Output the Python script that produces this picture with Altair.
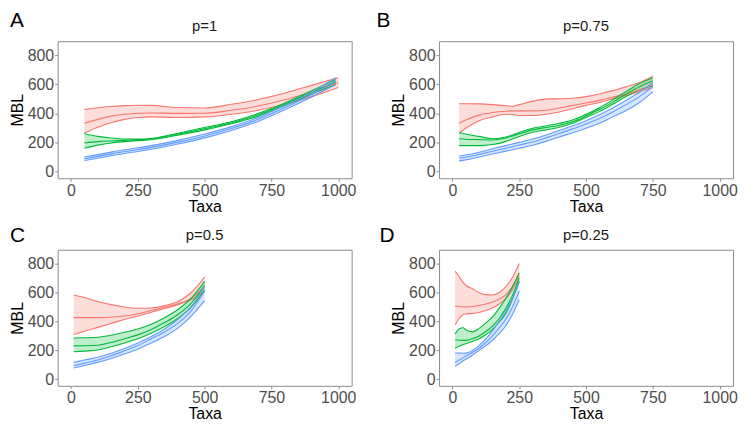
import altair as alt
import pandas as pd

# ---------------- data ----------------
panel_labels = ["A", "B", "C", "D"]
panel_titles = ["p=1", "p=0.75", "p=0.5", "p=0.25"]
groups = ["g1", "g2", "g3"]
group_colors = ["#F8766D", "#00BA38", "#619CFF"]
x_ticks = [0, 250, 500, 750, 1000]
y_ticks = [0, 200, 400, 600, 800]

# Panel A (p=1)
A_x_red = [50, 100, 150, 200, 250, 300, 400, 500, 600, 700, 800, 900, 1000]
A_red_lo = [264, 305, 336, 359, 372, 376, 372, 376, 394, 421, 462, 515, 578]
A_red_mid = [332, 359, 381, 394, 401, 403, 400, 401, 421, 450, 493, 549, 612]
A_red_hi = [426, 438, 447, 453, 456, 455, 440, 437, 462, 495, 540, 592, 645]
A_x_green = [50, 100, 150, 200, 250, 300, 400, 500, 600, 700, 800, 900, 990]
A_green_lo = [161, 182, 197, 206, 213, 219, 251, 287, 329, 381, 453, 533, 596]
A_green_mid = [197, 206, 211, 215, 220, 224, 258, 294, 336, 390, 462, 545, 614]
A_green_hi = [260, 242, 231, 224, 224, 228, 264, 303, 343, 399, 471, 556, 632]
A_x_blue = [50, 100, 150, 200, 250, 300, 400, 500, 600, 700, 800, 900, 990]
A_blue_lo = [76, 92, 109, 125, 139, 154, 190, 232, 283, 345, 425, 513, 598]
A_blue_mid = [89, 105, 122, 138, 152, 167, 203, 245, 296, 359, 440, 530, 622]
A_blue_hi = [101, 117, 134, 150, 164, 179, 215, 258, 309, 372, 455, 545, 645]

# Panel B (p=0.75)
B_x = [25, 50, 100, 150, 200, 225, 250, 300, 350, 400, 450, 500, 550, 600, 650, 700, 750]
B_red_lo = [264, 298, 350, 376, 394, 392, 385, 385, 394, 410, 432, 455, 475, 500, 522, 551, 578]
B_red_mid = [332, 354, 388, 406, 415, 417, 417, 417, 421, 437, 455, 471, 489, 511, 533, 560, 596]
B_red_hi = [466, 466, 465, 460, 452, 448, 460, 484, 498, 500, 504, 515, 533, 556, 583, 612, 655]
B_green_lo = [179, 179, 179, 186, 208, 225, 242, 271, 287, 305, 332, 372, 412, 462, 515, 560, 589]
B_green_mid = [226, 223, 220, 217, 231, 245, 260, 287, 303, 318, 343, 383, 426, 477, 533, 583, 623]
B_green_hi = [269, 258, 242, 226, 238, 252, 269, 298, 314, 332, 354, 394, 439, 493, 551, 605, 645]
B_blue_lo = [74, 81, 101, 121, 141, 151, 161, 182, 208, 238, 267, 298, 333, 376, 420, 475, 548]
B_blue_mid = [92, 99, 119, 140, 161, 172, 183, 204, 232, 262, 294, 327, 365, 410, 460, 515, 585]
B_blue_hi = [108, 115, 134, 157, 179, 190, 201, 224, 252, 282, 315, 350, 390, 437, 490, 545, 610]

# Panel C (p=0.5)
C_x = [10, 50, 100, 150, 200, 250, 300, 350, 400, 450, 500]
C_red_lo = [309, 332, 359, 386, 413, 437, 464, 489, 516, 549, 605]
C_red_mid = [426, 426, 426, 430, 437, 453, 475, 498, 522, 561, 640]
C_red_hi = [583, 565, 538, 516, 500, 491, 493, 509, 538, 600, 706]
C_green_lo = [191, 195, 202, 225, 251, 280, 318, 365, 422, 498, 617]
C_green_mid = [231, 232, 235, 255, 280, 307, 345, 392, 448, 527, 650]
C_green_hi = [285, 287, 291, 305, 325, 348, 381, 426, 482, 561, 677]
C_blue_lo = [78, 96, 117, 144, 175, 208, 251, 296, 354, 437, 543]
C_blue_mid = [94, 112, 134, 163, 197, 233, 280, 327, 388, 475, 610]
C_blue_hi = [117, 133, 152, 180, 213, 251, 296, 348, 415, 504, 645]

# Panel D (p=0.25)
D_x = [10, 25, 40, 50, 75, 100, 125, 150, 175, 200, 225, 250]
D_red_lo = [375, 420, 448, 452, 455, 462, 475, 493, 520, 558, 620, 713]
D_red_mid = [507, 503, 501, 500, 503, 511, 520, 534, 555, 583, 645, 735]
D_red_hi = [747, 710, 670, 650, 625, 600, 585, 583, 600, 640, 705, 800]
D_green_lo = [213, 228, 240, 246, 262, 280, 308, 345, 395, 455, 555, 680]
D_green_mid = [273, 270, 269, 269, 280, 300, 330, 368, 420, 490, 580, 700]
D_green_hi = [313, 348, 356, 342, 328, 352, 390, 432, 490, 560, 640, 735]
D_blue_lo = [90, 108, 128, 138, 168, 200, 232, 270, 315, 370, 450, 550]
D_blue_mid = [117, 133, 148, 160, 187, 215, 255, 300, 355, 415, 500, 610]
D_blue_hi = [184, 181, 180, 181, 200, 235, 280, 335, 400, 470, 560, 672]

series = {
    "A": [(A_x_red, A_red_lo, A_red_mid, A_red_hi),
          (A_x_green, A_green_lo, A_green_mid, A_green_hi),
          (A_x_blue, A_blue_lo, A_blue_mid, A_blue_hi)],
    "B": [(B_x, B_red_lo, B_red_mid, B_red_hi),
          (B_x, B_green_lo, B_green_mid, B_green_hi),
          (B_x, B_blue_lo, B_blue_mid, B_blue_hi)],
    "C": [(C_x, C_red_lo, C_red_mid, C_red_hi),
          (C_x, C_green_lo, C_green_mid, C_green_hi),
          (C_x, C_blue_lo, C_blue_mid, C_blue_hi)],
    "D": [(D_x, D_red_lo, D_red_mid, D_red_hi),
          (D_x, D_green_lo, D_green_mid, D_green_hi),
          (D_x, D_blue_lo, D_blue_mid, D_blue_hi)],
}

rows = []
for p, lst in series.items():
    for g, (xs, lo, mid, hi) in zip(groups, lst):
        for x, l, m, h in zip(xs, lo, mid, hi):
            rows.append({"panel": p, "group": g, "x": x, "lo": l, "mid": m, "hi": h})
df = pd.DataFrame(rows)

FONT = "Liberation Sans"

# layout (plot-area sizes / label offsets)
widths = [296, 296, 296, 296]
heights = [138, 138, 137, 137]
label_pos = [(-48, -31), (-63, -31), (-48, -25), (-60, -25)]
title_dy = [-10, -10, -10, -10]


def make_panel(i):
    p = panel_labels[i]
    w, h = widths[i], heights[i]
    base = alt.Chart(df[df["panel"] == p])
    xscale = alt.Scale(domain=[-50, 1050], nice=False, zero=False)
    yscale = alt.Scale(domain=[-45, 895], nice=False, zero=False)
    xaxis = alt.Axis(values=x_ticks, format="d", title="Taxa", titlePadding=0, labelFlush=False)
    yaxis = alt.Axis(values=y_ticks, format="d", title="MBL", titlePadding=2, labelFlush=False)
    color = alt.Color("group:N", scale=alt.Scale(domain=groups, range=group_colors), legend=None)
    xenc = alt.X("x:Q", scale=xscale, axis=xaxis)

    area = base.mark_area(opacity=0.25, interpolate="monotone").encode(
        x=xenc,
        y=alt.Y("lo:Q", scale=yscale, axis=yaxis),
        y2="hi:Q",
        color=color,
        detail="group:N",
    )
    lines = [
        base.mark_line(interpolate="monotone", strokeWidth=1.1).encode(
            x=xenc,
            y=alt.Y(f"{c}:Q", scale=yscale, axis=yaxis),
            color=color,
            detail="group:N",
        )
        for c in ["lo", "mid", "hi"]
    ]
    lx, ly = label_pos[i]
    label = alt.Chart(pd.DataFrame({"t": [p]})).mark_text(
        align="left", baseline="top", fontSize=21, font=FONT, color="black"
    ).encode(text="t:N", x=alt.value(lx), y=alt.value(ly))
    title = alt.Chart(pd.DataFrame({"t": [panel_titles[i]]})).mark_text(
        align="center", baseline="alphabetic", fontSize=15, font=FONT, color="#1a1a1a"
    ).encode(text="t:N", x=alt.value(w / 2), y=alt.value(title_dy[i]))
    return alt.layer(area, *lines, label, title).properties(width=w, height=h)


panels = [make_panel(i) for i in range(4)]

chart = alt.concat(
    *panels, columns=2, spacing={"row": 72, "column": 88}, bounds="flush"
).properties(padding=0).configure_view(
    stroke="#8C8C8C", strokeWidth=1
).configure_axis(
    grid=False,
    domain=False,
    tickColor="#8C8C8C",
    tickSize=3,
    tickWidth=1,
    labelPadding=1,
    labelFont=FONT,
    labelFontSize=16,
    labelColor="#4D4D4D",
    titleFont=FONT,
    titleFontSize=16,
    titleFontWeight="normal",
    titleColor="black",
)

chart.save("out.html", embed_options={"renderer": "svg", "actions": False})
